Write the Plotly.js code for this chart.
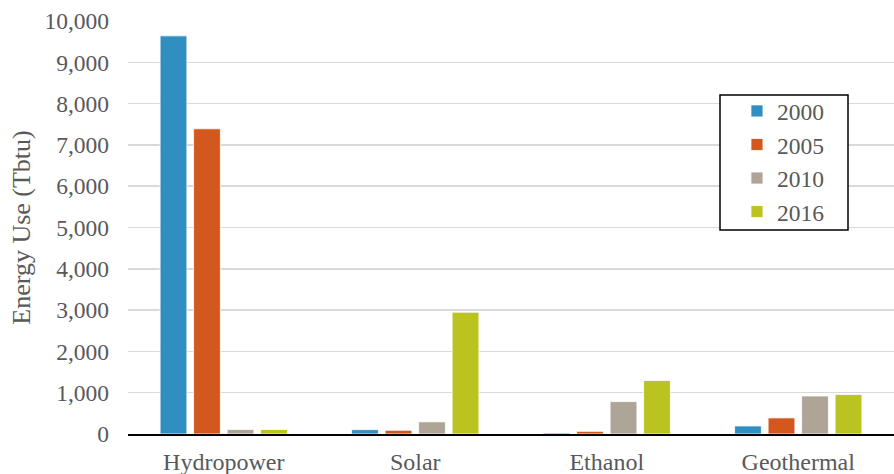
<!DOCTYPE html>
<html>
<head>
<meta charset="utf-8">
<script src="https://cdn.plot.ly/plotly-3.0.1.min.js"></script>
<style>html,body{margin:0;padding:0;background:#fff;}#chart{width:894px;height:474px;}</style>
</head>
<body>
<div id="chart"></div>
<script>
const categories = ["Hydropower", "Solar", "Ethanol", "Geothermal"];
const years = ["2000", "2005", "2010", "2016"];
const values2000 = [9640, 105, 25, 195];
const values2005 = [7390, 90, 65, 390];
const values2010 = [110, 295, 785, 920];
const values2016 = [110, 2950, 1295, 955];
const yTickVals = [0, 1000, 2000, 3000, 4000, 5000, 6000, 7000, 8000, 9000, 10000];
const yTickText = ["0", "1,000", "2,000", "3,000", "4,000", "5,000", "6,000", "7,000", "8,000", "9,000", "10,000"];
const colors = ["#2E8FC0", "#D2581E", "#AFA597", "#BBC320"];

const series = [values2000, values2005, values2010, values2016];
const traces = series.map((vals, i) => ({
  type: "bar",
  name: years[i],
  x: categories,
  y: vals,
  marker: { color: colors[i], line: { color: "#ffffff", width: 0.8 } },
  hoverinfo: "x+y+name"
}));

const font = { family: "Liberation Serif", color: "#595959" };

const layout = {
  width: 894,
  height: 474,
  margin: { l: 128, r: 0, t: 21, b: 40, pad: 0 },
  paper_bgcolor: "#ffffff",
  plot_bgcolor: "#ffffff",
  barmode: "group",
  bargap: 0.3,
  bargroupgap: 0.2,
  font: Object.assign({ size: 23 }, font),
  showlegend: true,
  legend: {
    x: 0.795, y: 0.835, xanchor: "left", yanchor: "top",
    borderwidth: 0, bgcolor: "rgba(255,255,255,0)",
    font: Object.assign({ size: 23.5 }, font),
    tracegroupgap: 0,
    itemwidth: 30
  },
  shapes: [{
    type: "rect", xref: "paper", yref: "paper", layer: "above",
    x0: (720 - 128) / 766, x1: (848 - 128) / 766,
    y0: (434 - 230) / 413, y1: (434 - 95) / 413,
    line: { color: "#000000", width: 1.5 }, fillcolor: "#ffffff"
  }],
  xaxis: {
    type: "category",
    showline: true, linecolor: "#000000", linewidth: 1.5,
    showgrid: false, ticks: "",
    tickfont: Object.assign({ size: 24 }, font),
    ticklabelstandoff: 6,
    automargin: false
  },
  yaxis: {
    range: [0, 10000],
    tickvals: yTickVals,
    ticktext: yTickText,
    showgrid: true, gridcolor: "#d9d9d9", gridwidth: 1.5,
    zeroline: false, showline: false, ticks: "",
    tickfont: Object.assign({ size: 23.5 }, font),
    ticklabelstandoff: 18,
    automargin: false,
    title: { text: "Energy Use (Tbtu)", font: Object.assign({ size: 26 }, font), standoff: 6 }
  }
};

Plotly.newPlot("chart", traces, layout, { displayModeBar: false, staticPlot: true });
</script>
</body>
</html>
